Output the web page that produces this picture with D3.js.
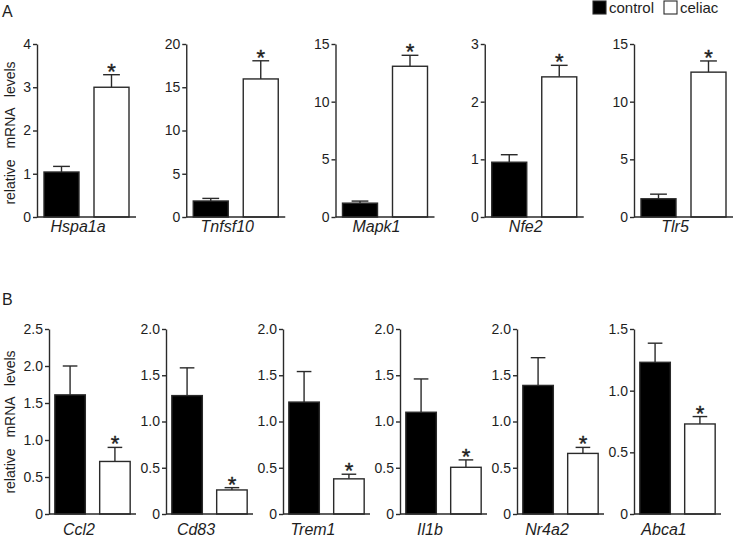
<!DOCTYPE html>
<html><head><meta charset="utf-8">
<script src="https://cdn.jsdelivr.net/npm/d3@7"></script>
<style>
html,body{margin:0;padding:0;background:#fff;}
svg{display:block;font-family:"Liberation Sans",Arial,sans-serif;}
</style></head>
<body>
<svg id="chart" width="733" height="539"></svg>
<script>
// ---- Data ----
const groups = ["control", "celiac"];

const genesA = ["Hspa1a", "Tnfsf10", "Mapk1", "Nfe2", "Tlr5"];
const controlA = [1.04, 1.85, 1.20, 0.95, 1.58];
const controlSemA = [0.13, 0.30, 0.18, 0.13, 0.40];
const celiacA = [3.00, 15.96, 13.07, 2.43, 12.56];
const celiacSemA = [0.29, 2.10, 0.95, 0.20, 0.97];
const yMaxA = [4, 20, 15, 3, 15];
const yStepA = [1, 5, 5, 1, 5];
const sigA = [true, true, true, true, true];

const genesB = ["Ccl2", "Cd83", "Trem1", "Il1b", "Nr4a2", "Abca1"];
const controlB = [1.61, 1.28, 1.21, 1.10, 1.39, 1.23];
const controlSemB = [0.39, 0.30, 0.33, 0.36, 0.30, 0.155];
const celiacB = [0.71, 0.26, 0.38, 0.505, 0.655, 0.73];
const celiacSemB = [0.19, 0.025, 0.05, 0.08, 0.065, 0.06];
const yMaxB = [2.5, 2, 2, 2, 2, 1.5];
const yStepB = [0.5, 0.5, 0.5, 0.5, 0.5, 0.5];
const sigB = [true, true, true, true, true, true];

const yTitle = "relative mRNA levels";

// ---- Drawing ----
const svg = d3.select("#chart");
const lineColor = "#2a2a2a";
const textColor = "#1e1e1e";
const lw = 1.4;

function fmt(step) {
  return d => d === 0 ? "0" : (step < 1 ? d3.format(".1f")(d) : d3.format("d")(d));
}

function drawChart(o) {
  const g = svg.append("g");
  const y = d3.scaleLinear().domain([0, o.max]).range([o.bottom, o.top]);
  const x = d3.scaleBand().domain(groups).range([o.x0, o.x0 + o.width])
    .paddingInner(o.pi).paddingOuter(o.po);

  const vals = [o.ctrl, o.cel];
  const sems = [o.ctrlSem, o.celSem];

  // error bars (one-sided, upward)
  groups.forEach((grp, i) => {
    const cx = x(grp) + x.bandwidth() / 2;
    const top = y(vals[i] + sems[i]);
    const capW = x.bandwidth() * 0.48;
    g.append("line").attr("x1", cx).attr("x2", cx)
      .attr("y1", y(vals[i])).attr("y2", top)
      .attr("stroke", lineColor).attr("stroke-width", lw);
    g.append("line").attr("x1", cx - capW / 2).attr("x2", cx + capW / 2)
      .attr("y1", top).attr("y2", top)
      .attr("stroke", lineColor).attr("stroke-width", lw);
  });

  // bars
  g.selectAll("rect.bar").data(groups).join("rect")
    .attr("class", "bar")
    .attr("x", d => x(d))
    .attr("width", x.bandwidth())
    .attr("y", (d, i) => y(vals[i]))
    .attr("height", (d, i) => o.bottom - y(vals[i]))
    .attr("fill", (d, i) => i === 0 ? "#000" : "#fff")
    .attr("stroke", lineColor)
    .attr("stroke-width", lw);

  // asterisk
  if (o.sig) {
    const cx = x("celiac") + x.bandwidth() / 2;
    g.append("text").attr("x", cx).attr("y", y(o.cel + o.celSem) + 4)
      .attr("text-anchor", "middle").attr("font-size", 22).attr("fill", textColor)
      .attr("stroke", textColor).attr("stroke-width", 0.4)
      .text("*");
  }

  // y axis
  const ticks = d3.range(0, o.max + o.step / 2, o.step);
  const ax = d3.axisLeft(y).tickValues(ticks).tickSize(4).tickPadding(2)
    .tickSizeOuter(0).tickFormat(fmt(o.step));
  const axG = g.append("g").attr("transform", `translate(${o.x0},0)`).call(ax);
  axG.select(".domain").attr("stroke", lineColor).attr("stroke-width", lw);
  axG.selectAll(".tick line").attr("stroke", lineColor).attr("stroke-width", lw);
  axG.selectAll(".tick text").attr("font-size", 14).attr("fill", textColor)
    .attr("font-family", "Liberation Sans, Arial, sans-serif");

  // baseline
  g.append("line").attr("x1", o.x0).attr("x2", o.x0 + o.width)
    .attr("y1", o.bottom).attr("y2", o.bottom)
    .attr("stroke", lineColor).attr("stroke-width", lw);

  // gene label
  g.append("text").attr("x", o.x0 + o.labelDx).attr("y", o.labelY)
    .attr("text-anchor", "middle").attr("font-size", 16).attr("font-style", "italic")
    .attr("fill", textColor).text(o.gene);
}

// Panel A
genesA.forEach((gene, i) => {
  drawChart({
    x0: 37 + i * 149.25, width: 99, top: 44, bottom: 217,
    pi: 0.3, po: 0.14,
    gene, ctrl: controlA[i], ctrlSem: controlSemA[i],
    cel: celiacA[i], celSem: celiacSemA[i],
    max: yMaxA[i], step: yStepA[i], sig: sigA[i],
    labelDx: 41, labelY: 232
  });
});

// Panel B
genesB.forEach((gene, i) => {
  drawChart({
    x0: 49 + i * 117, width: 87, top: 329, bottom: 514,
    pi: 0.32, po: 0.13,
    gene, ctrl: controlB[i], ctrlSem: controlSemB[i],
    cel: celiacB[i], celSem: celiacSemB[i],
    max: yMaxB[i], step: yStepB[i], sig: sigB[i],
    labelDx: 30, labelY: 535
  });
});

// Y titles
[[15, 133], [15, 422]].forEach(([tx, ty]) => {
  svg.append("text").attr("transform", `translate(${tx},${ty}) rotate(-90)`)
    .attr("text-anchor", "middle").attr("font-size", 14).attr("fill", textColor)
    .style("word-spacing", "7px").text(yTitle);
});

// Panel letters
svg.append("text").attr("x", 2).attr("y", 17).attr("font-size", 16).attr("fill", textColor).text("A");
svg.append("text").attr("x", 2).attr("y", 305).attr("font-size", 16).attr("fill", textColor).text("B");

// Legend
const legend = svg.append("g");
const legItems = [{ name: groups[0], x: 593, fill: "#000" }, { name: groups[1], x: 664, fill: "#fff" }];
legItems.forEach(it => {
  legend.append("rect").attr("x", it.x).attr("y", 1).attr("width", 13).attr("height", 13)
    .attr("fill", it.fill).attr("stroke", lineColor).attr("stroke-width", 1.1);
  legend.append("text").attr("x", it.x + 16).attr("y", 12.5).attr("font-size", 15)
    .attr("fill", textColor).text(it.name);
});
</script>
</body></html>
